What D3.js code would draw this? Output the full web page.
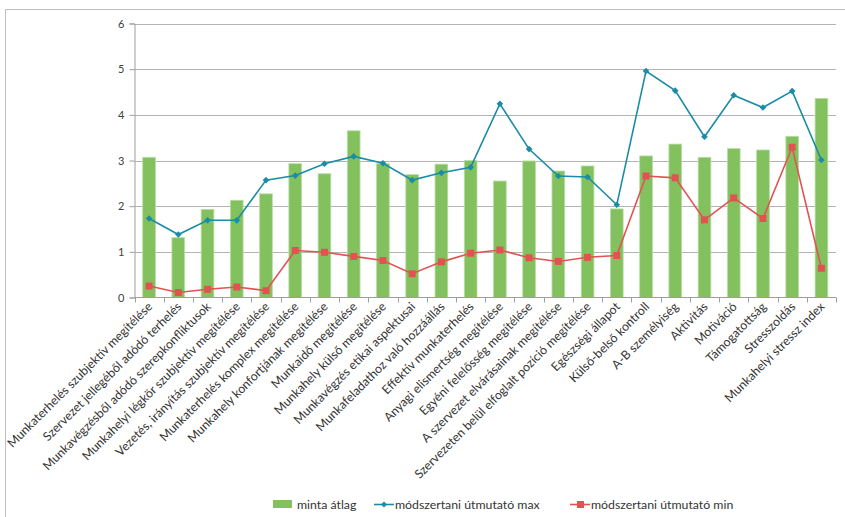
<!DOCTYPE html>
<html>
<head>
<meta charset="utf-8">
<script src="https://cdn.jsdelivr.net/npm/d3@7"></script>
<style>
  body { margin: 0; background: #fff; }
  svg { display: block; font-family: Lato, "Open Sans", sans-serif; }
</style>
</head>
<body>
<svg id="chart" width="845" height="517"></svg>
<script>
const width = 845;
const height = 517;

var categories = [
  "Munkaterhelés szubjektív megítélése",
  "Szervezet jellegéből adódó terhelés",
  "Munkavégzésből adódó szerepkonfliktusok",
  "Munkahelyi légkör szubjektív megítélése",
  "Vezetés, irányítás szubjektív megítélése",
  "Munkaterhelés komplex megítélése",
  "Munkahely konfortjának megítélése",
  "Munkaidő megítélése",
  "Munkahely külső megítélése",
  "Munkavégzés etikai aspektusai",
  "Munkafeladathoz való hozzáállás",
  "Effektív munkaterhelés",
  "Anyagi elismertség megítélése",
  "Egyéni felelősség megítélése",
  "A szervezet elvárásainak megítélése",
  "Szervezeten belül elfoglalt pozíció megítélése",
  "Egészségi állapot",
  "Külső-belső kontroll",
  "A-B személyiség",
  "Aktivitás",
  "Motiváció",
  "Támogatottság",
  "Stresszoldás",
  "Munkahelyi stressz index"
];

var mintaAtlag = [3.07, 1.31, 1.93, 2.13, 2.27, 2.93, 2.71, 3.65, 2.93, 2.69, 2.92, 3.00,
                  2.55, 2.99, 2.77, 2.88, 1.94, 3.10, 3.36, 3.07, 3.26, 3.23, 3.53, 4.36];
var utmutatoMax = [1.73, 1.38, 1.69, 1.69, 2.57, 2.67, 2.93, 3.09, 2.94, 2.57, 2.73, 2.85,
                   4.24, 3.25, 2.66, 2.64, 2.03, 4.96, 4.53, 3.52, 4.43, 4.16, 4.52, 3.01];
var utmutatoMin = [0.25, 0.11, 0.18, 0.23, 0.15, 1.03, 0.99, 0.90, 0.81, 0.52, 0.78, 0.97,
                   1.04, 0.87, 0.79, 0.88, 0.92, 2.66, 2.62, 1.70, 2.18, 1.73, 3.29, 0.64];
var yTicks = [0, 1, 2, 3, 4, 5, 6];

var legendLabels = ["minta átlag", "módszertani útmutató max", "módszertani útmutató min"];

// plot area
var plotLeft = 134.5, plotRight = 836, plotTop = 23.5, plotBottom = 297.5;

var svg = d3.select("#chart");

// outer chart frame (only top and left visible)
svg.append("path")
    .attr("d", "M5.5," + height + "V9.5H" + width)
    .attr("fill", "none")
    .attr("stroke", "#bfbfbf");

var x = d3.scaleBand()
    .domain(categories)
    .range([plotLeft, plotRight])
    .paddingInner(0.565)
    .paddingOuter(0.28);

var slot = d3.scaleBand().domain(categories).range([plotLeft, plotRight]);

var y = d3.scaleLinear().domain([0, 6]).range([plotBottom, plotTop]);

// gridlines
svg.append("g")
    .selectAll("line")
    .data(yTicks.filter(function (d) { return d > 0; }))
    .join("line")
    .attr("x1", plotLeft).attr("x2", plotRight)
    .attr("y1", function (d) { return Math.round(y(d)) + 0.5; })
    .attr("y2", function (d) { return Math.round(y(d)) + 0.5; })
    .attr("stroke", "#b4b4b4")
    .attr("stroke-width", 1);

// y axis
var yAxis = svg.append("g")
    .attr("transform", "translate(" + plotLeft + ",0)")
    .call(d3.axisLeft(y).tickValues(yTicks).tickSize(5).tickPadding(5).tickFormat(d3.format("d")));
yAxis.select(".domain").attr("stroke", "#9e9e9e");
yAxis.selectAll(".tick line").attr("stroke", "#9e9e9e");
yAxis.selectAll("text").attr("font-size", 11).attr("fill", "#404040")
    .attr("font-family", "Lato, sans-serif");

// bars
svg.append("g")
    .selectAll("rect")
    .data(mintaAtlag)
    .join("rect")
    .attr("x", function (d, i) { return x(categories[i]); })
    .attr("width", x.bandwidth())
    .attr("y", function (d) { return y(d); })
    .attr("height", function (d) { return y(0) - y(d); })
    .attr("fill", "#83c15e")
    .attr("stroke", "#b9dea6")
    .attr("stroke-width", 0.8);

// x axis
var xAxisG = svg.append("g").attr("transform", "translate(0," + plotBottom + ")");
xAxisG.append("line")
    .attr("x1", plotLeft).attr("x2", plotRight)
    .attr("stroke", "#9e9e9e");
xAxisG.selectAll("line.tk")
    .data(d3.range(categories.length + 1))
    .join("line")
    .attr("class", "tk")
    .attr("x1", function (i) { return Math.round(plotLeft + i * slot.bandwidth()) + 0.5; })
    .attr("x2", function (i) { return Math.round(plotLeft + i * slot.bandwidth()) + 0.5; })
    .attr("y1", 0).attr("y2", 5)
    .attr("stroke", "#9e9e9e");

xAxisG.selectAll("text")
    .data(categories)
    .join("text")
    .attr("transform", function (d) {
        return "translate(" + (slot(d) + slot.bandwidth() / 2 + 4) + ",10) rotate(-45)";
    })
    .attr("text-anchor", "end")
    .attr("font-size", 12.3)
    .attr("fill", "#333")
    .text(function (d) { return d; });

// lines
var cx = function (d, i) { return slot(categories[i]) + slot.bandwidth() / 2; };
var line = d3.line().x(cx).y(function (d) { return y(d); });

svg.append("path")
    .datum(utmutatoMax)
    .attr("d", line)
    .attr("fill", "none")
    .attr("stroke", "#1b8ca6")
    .attr("stroke-width", 1.6);

svg.append("g")
    .selectAll("path")
    .data(utmutatoMax)
    .join("path")
    .attr("transform", function (d, i) { return "translate(" + cx(d, i) + "," + y(d) + ")"; })
    .attr("d", d3.symbol(d3.symbolDiamond2, 28))
    .attr("fill", "#1b8ca6");

svg.append("path")
    .datum(utmutatoMin)
    .attr("d", line)
    .attr("fill", "none")
    .attr("stroke", "#e35252")
    .attr("stroke-width", 1.6);

svg.append("g")
    .selectAll("rect")
    .data(utmutatoMin)
    .join("rect")
    .attr("x", function (d, i) { return cx(d, i) - 3.5; })
    .attr("y", function (d) { return y(d) - 3.5; })
    .attr("width", 7).attr("height", 7)
    .attr("fill", "#e35252");

// legend
var legend = svg.append("g").attr("font-size", 12.3).attr("fill", "#333");

legend.append("rect")
    .attr("x", 273).attr("y", 500).attr("width", 19).attr("height", 8)
    .attr("fill", "#83c15e");
legend.append("text").attr("x", 297).attr("y", 509).text(legendLabels[0]);

legend.append("line")
    .attr("x1", 374).attr("x2", 394).attr("y1", 504.5).attr("y2", 504.5)
    .attr("stroke", "#1b8ca6").attr("stroke-width", 1.6);
legend.append("path")
    .attr("transform", "translate(384,504.5)")
    .attr("d", d3.symbol(d3.symbolDiamond2, 22))
    .attr("fill", "#1b8ca6");
legend.append("text").attr("x", 395).attr("y", 509).text(legendLabels[1]);

legend.append("line")
    .attr("x1", 570).attr("x2", 590).attr("y1", 504.5).attr("y2", 504.5)
    .attr("stroke", "#e35252").attr("stroke-width", 1.6);
legend.append("rect")
    .attr("x", 577).attr("y", 501).attr("width", 7).attr("height", 7)
    .attr("fill", "#e35252");
legend.append("text").attr("x", 591).attr("y", 509).text(legendLabels[2]);
</script>
</body>
</html>
